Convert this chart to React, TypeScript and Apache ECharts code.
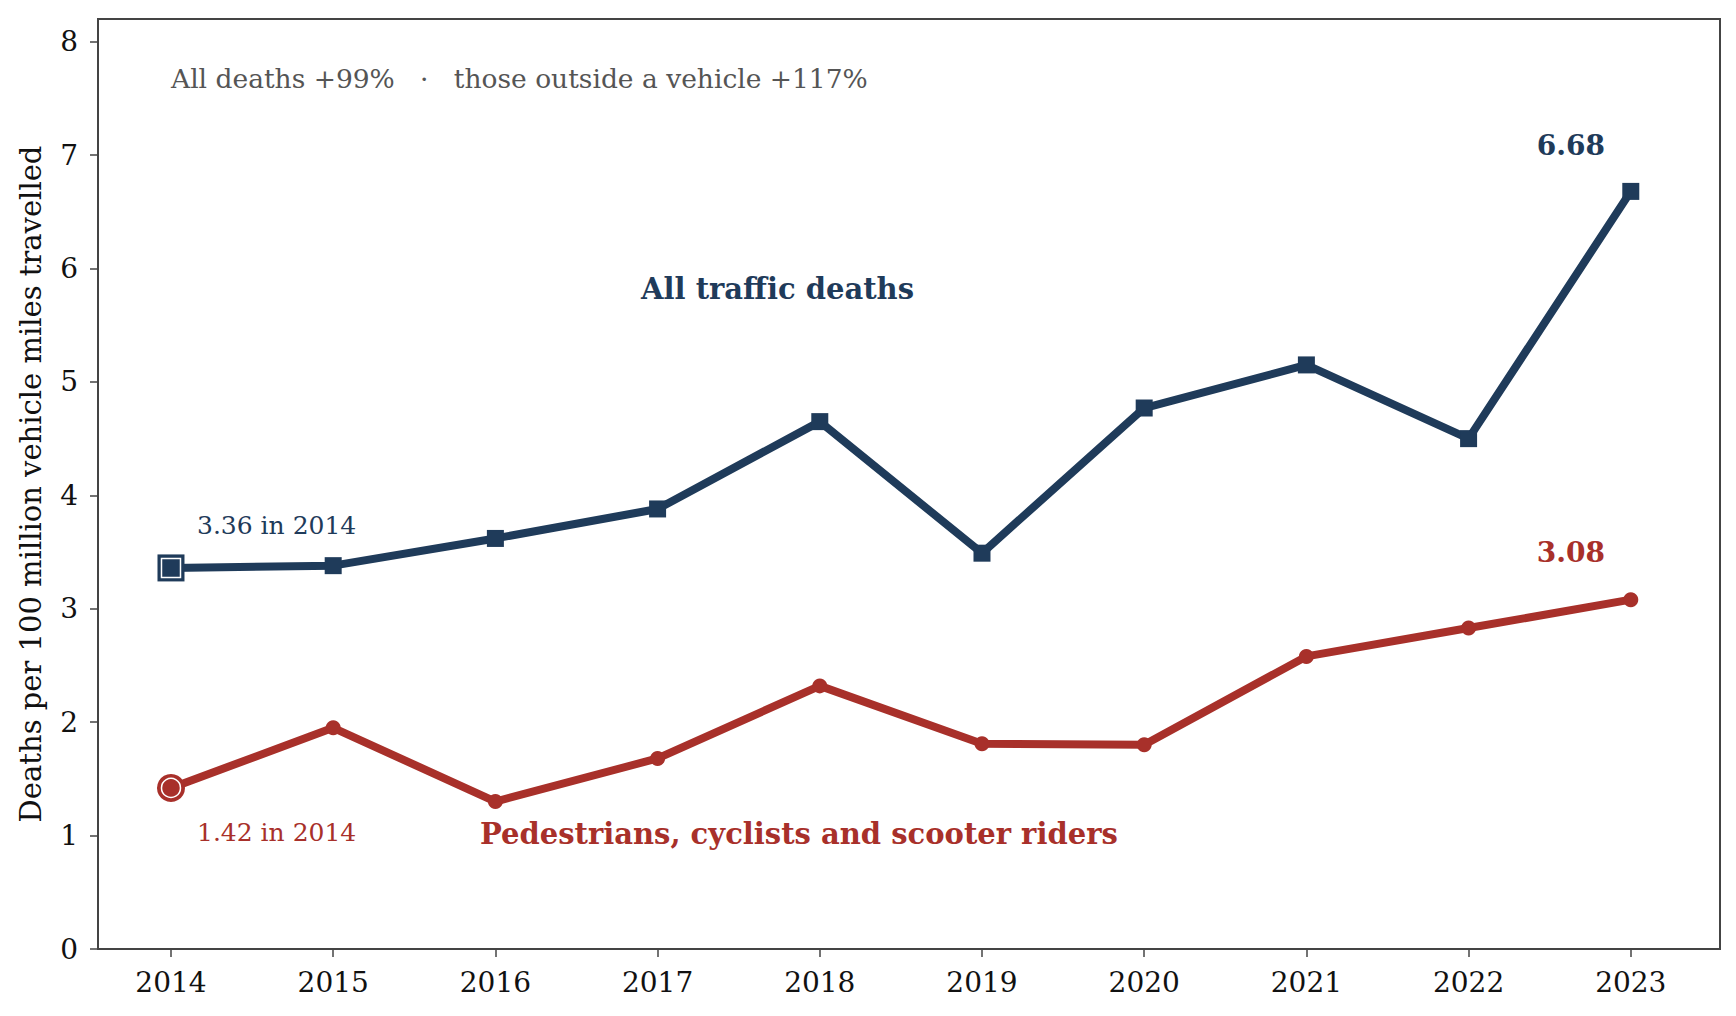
import React, { useEffect, useRef } from 'react';
import * as echarts from 'echarts';

const years = [2014, 2015, 2016, 2017, 2018, 2019, 2020, 2021, 2022, 2023];
const allDeaths = [3.36, 3.38, 3.62, 3.88, 4.65, 3.49, 4.77, 5.15, 4.5, 6.68];
const outsideDeaths = [1.42, 1.95, 1.3, 1.68, 2.32, 1.81, 1.8, 2.58, 2.83, 3.08];
const yTicks = [0, 1, 2, 3, 4, 5, 6, 7, 8];

const NAVY = '#1f3b5a';
const RED = '#a8302a';
const AXIS = '#444444';
const FONT = 'DejaVu Serif';

const App: React.FC = () => {
  const chartRef = useRef<HTMLDivElement | null>(null);

  useEffect(() => {
    const chart = echarts.init(chartRef.current!, undefined, { renderer: 'svg' });

    const first = (arr: number[]) => [[years[0], arr[0]]];
    const last = (arr: number[]) => [[years[years.length - 1], arr[arr.length - 1]]];

    const endLabel = (color: string, dy: number) => ({
      show: true,
      formatter: (p: any) => p.value[1].toFixed(2),
      position: 'top' as const,
      offset: [-60, dy],
      fontFamily: FONT,
      fontWeight: 'bold' as const,
      fontSize: 28,
      color,
    });

    const option: echarts.EChartsOption = {
      animation: false,
      backgroundColor: '#ffffff',
      grid: {
        left: 98,
        right: 16,
        top: 19,
        bottom: 67,
        show: true,
        borderColor: AXIS,
        borderWidth: 2,
      },
      xAxis: {
        type: 'value',
        min: 2013.55,
        max: 2023.55,
        splitLine: { show: false },
        axisLine: { show: true, lineStyle: { color: AXIS, width: 2 } },
        axisTick: {
          show: true,
          length: 8,
          customValues: years,
          lineStyle: { color: AXIS, width: 1.5 },
        } as any,
        axisLabel: {
          customValues: years,
          formatter: (v: number) => String(v),
          fontFamily: FONT,
          fontSize: 28,
          color: '#111111',
          margin: 19,
        } as any,
      },
      yAxis: {
        type: 'value',
        min: 0,
        max: 8.2,
        splitLine: { show: false },
        axisLine: { show: true, lineStyle: { color: AXIS, width: 2 } },
        axisTick: {
          show: true,
          length: 8,
          customValues: yTicks,
          lineStyle: { color: AXIS, width: 1.5 },
        } as any,
        axisLabel: {
          customValues: yTicks,
          formatter: (v: number) => String(v),
          fontFamily: FONT,
          fontSize: 28,
          color: '#111111',
          margin: 20,
        } as any,
        name: 'Deaths per 100 million vehicle miles travelled',
        nameLocation: 'middle',
        nameGap: 53,
        nameTextStyle: { fontFamily: FONT, fontSize: 29, color: '#111111' },
      },
      series: [
        {
          type: 'line',
          data: years.map((y, i) => [y, allDeaths[i]]),
          symbol: 'rect',
          symbolSize: 17,
          showAllSymbol: true,
          lineStyle: { color: NAVY, width: 8 },
          itemStyle: { color: NAVY },
          z: 3,
        },
        {
          type: 'line',
          data: years.map((y, i) => [y, outsideDeaths[i]]),
          symbol: 'circle',
          symbolSize: 15,
          showAllSymbol: true,
          lineStyle: { color: RED, width: 8 },
          itemStyle: { color: RED },
          z: 3,
        },
        // highlighted 2014 starting points
        {
          type: 'scatter',
          data: first(allDeaths),
          symbol: 'rect',
          symbolSize: 27,
          itemStyle: { color: NAVY, opacity: 1 },
          z: 4,
        },
        {
          type: 'scatter',
          data: first(allDeaths),
          symbol: 'rect',
          symbolSize: 19,
          itemStyle: { color: NAVY, borderColor: '#ffffff', borderWidth: 1.5, opacity: 1 },
          z: 5,
        },
        {
          type: 'scatter',
          data: first(outsideDeaths),
          symbol: 'circle',
          symbolSize: 28,
          itemStyle: { color: RED, opacity: 1 },
          z: 4,
        },
        {
          type: 'scatter',
          data: first(outsideDeaths),
          symbol: 'circle',
          symbolSize: 19,
          itemStyle: { color: RED, borderColor: '#ffffff', borderWidth: 1.5, opacity: 1 },
          z: 5,
        },
        // end value labels
        {
          type: 'scatter',
          data: last(allDeaths),
          symbolSize: 0,
          itemStyle: { opacity: 1 },
          label: endLabel(NAVY, -27),
          z: 6,
        },
        {
          type: 'scatter',
          data: last(outsideDeaths),
          symbolSize: 0,
          itemStyle: { opacity: 1 },
          label: endLabel(RED, -28),
          z: 6,
        },
      ],
      graphic: [
        {
          type: 'text',
          left: 171,
          top: 65,
          style: {
            text: 'All deaths +99%   ·   those outside a vehicle +117%',
            fontFamily: FONT,
            fontSize: 26.5,
            fill: '#555555',
          },
        },
        {
          type: 'text',
          left: 641,
          top: 274,
          style: {
            text: 'All traffic deaths',
            fontFamily: FONT,
            fontSize: 29,
            fontWeight: 'bold',
            fill: NAVY,
          },
        },
        {
          type: 'text',
          left: 480,
          top: 819,
          style: {
            text: 'Pedestrians, cyclists and scooter riders',
            fontFamily: FONT,
            fontSize: 29,
            fontWeight: 'bold',
            fill: RED,
          },
        },
        {
          type: 'text',
          left: 197,
          top: 513,
          style: {
            text: `${allDeaths[0].toFixed(2)} in ${years[0]}`,
            fontFamily: FONT,
            fontSize: 25,
            fill: NAVY,
          },
        },
        {
          type: 'text',
          left: 197,
          top: 820,
          style: {
            text: `${outsideDeaths[0].toFixed(2)} in ${years[0]}`,
            fontFamily: FONT,
            fontSize: 25,
            fill: RED,
          },
        },
      ],
    };

    chart.setOption(option);

    return () => {
      chart.dispose();
    };
  }, []);

  return (
    <div
      ref={chartRef}
      style={{ position: 'absolute', left: 0, top: 0, width: '1736px', height: '1016px' }}
    />
  );
};

export default App;
